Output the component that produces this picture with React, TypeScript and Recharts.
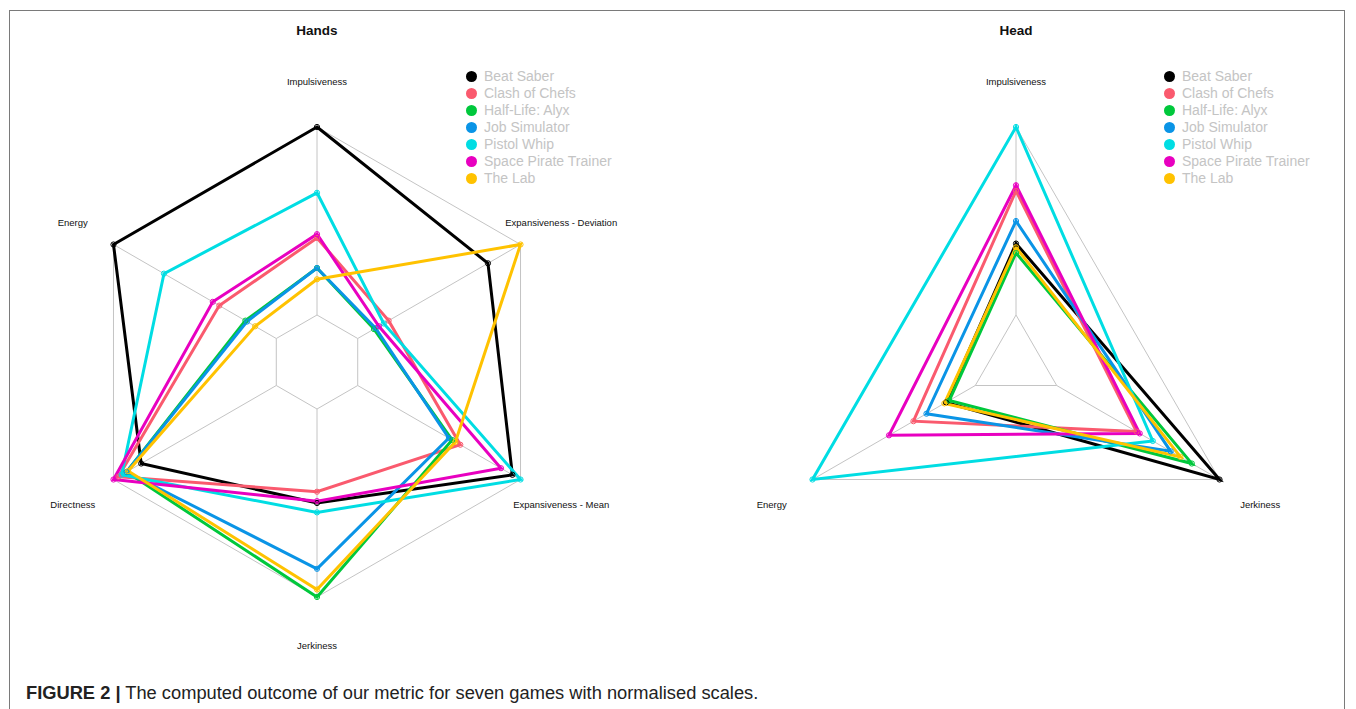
import React from 'react';
import { RadarChart, Radar, PolarGrid, PolarAngleAxis, PolarRadiusAxis } from 'recharts';

// Games and their colours
const games = ['Beat Saber', 'Clash of Chefs', 'Half-Life: Alyx', 'Job Simulator', 'Pistol Whip', 'Space Pirate Trainer', 'The Lab'];
const gameColors = ['#000000', '#FA5A6E', '#00C83C', '#0A94E6', '#00DDE3', '#E800C0', '#FFC200'];

// Hands metrics (normalised 0..1)
const handsAxes = ['Impulsiveness', 'Expansiveness - Deviation', 'Expansiveness - Mean', 'Jerkiness', 'Directness', 'Energy'];
const handsBeatSaber = [1.0, 0.8, 0.95, 0.5, 0.83, 1.0];
const handsClashOfChefs = [0.41, 0.19, 0.63, 0.44, 0.97, 0.35];
const handsHalfLifeAlyx = [0.25, 0.1, 0.58, 1.0, 0.92, 0.19];
const handsJobSimulator = [0.25, 0.11, 0.56, 0.85, 0.92, 0.18];
const handsPistolWhip = [0.65, 0.16, 1.0, 0.55, 0.95, 0.69];
const handsSpacePirateTrainer = [0.43, 0.13, 0.88, 0.49, 1.0, 0.39];
const handsTheLab = [0.19, 1.0, 0.6, 0.96, 0.91, 0.13];

// Head metrics (normalised 0..1)
const headAxes = ['Impulsiveness', 'Jerkiness', 'Energy'];
const headBeatSaber = [0.38, 1.0, 0.18];
const headClashOfChefs = [0.66, 0.49, 0.38];
const headHalfLifeAlyx = [0.33, 0.83, 0.16];
const headJobSimulator = [0.5, 0.7, 0.3];
const headPistolWhip = [1.0, 0.59, 1.0];
const headSpacePirateTrainer = [0.69, 0.51, 0.53];
const headTheLab = [0.36, 0.76, 0.19];

const handsSeries = [handsBeatSaber, handsClashOfChefs, handsHalfLifeAlyx, handsJobSimulator, handsPistolWhip, handsSpacePirateTrainer, handsTheLab];
const headSeries = [headBeatSaber, headClashOfChefs, headHalfLifeAlyx, headJobSimulator, headPistolWhip, headSpacePirateTrainer, headTheLab];

const buildRows = (axes: string[], series: number[][]) =>
  axes.map((axis, i) => {
    const row: Record<string, string | number> = { axis };
    games.forEach((g, k) => {
      row[g] = series[k][i];
    });
    return row;
  });

const handsData = buildRows(handsAxes, handsSeries);
const headData = buildRows(headAxes, headSeries);

const FONT = '"Liberation Sans", Arial, Helvetica, sans-serif';
const OUTER = 235;
const INNER = 47;

const AxisLabel = (props: any) => {
  const { x, y, payload } = props;
  return (
    <text x={x} y={y} dy={1.5} textAnchor="middle" dominantBaseline="central" fontSize={9.5} fill="#111" fontFamily={FONT}>
      {payload.value}
    </text>
  );
};

const GameLegend = ({ left, top }: { left: number; top: number }) => (
  <div style={{ position: 'absolute', left, top, fontFamily: FONT, fontSize: 14, color: '#c4c4c4' }}>
    {games.map((g, i) => (
      <div key={g} style={{ height: 17, lineHeight: '17px', position: 'relative', whiteSpace: 'nowrap' }}>
        <span
          style={{
            position: 'absolute',
            left: 0,
            top: 3,
            width: 11,
            height: 11,
            borderRadius: '50%',
            background: gameColors[i],
          }}
        />
        <span style={{ position: 'absolute', left: 18.5 }}>{g}</span>
      </div>
    ))}
  </div>
);

const Spider = ({ data, cx }: { data: any[]; cx: number }) => (
  <RadarChart
    width={678}
    height={709}
    data={data}
    cx={cx}
    cy={362}
    innerRadius={INNER}
    outerRadius={OUTER}
    margin={{ top: 0, right: 0, bottom: 0, left: 0 }}
  >
    <PolarGrid gridType="polygon" stroke="#c4c4c4" strokeWidth={1} />
    <PolarRadiusAxis domain={[0, 1]} tickCount={5} tick={false} axisLine={false} />
    <PolarAngleAxis dataKey="axis" axisLine={false} tickLine={false} tickSize={OUTER * 0.2} tick={<AxisLabel />} />
    {games.map((g, i) => (
      <Radar
        key={g}
        name={g}
        dataKey={g}
        stroke={gameColors[i]}
        strokeWidth={3}
        fill="none"
        fillOpacity={0}
        dot={{ r: 2.6, fill: gameColors[i], stroke: gameColors[i], strokeWidth: 1 }}
        isAnimationActive={false}
      />
    ))}
  </RadarChart>
);

export default function App() {
  return (
    <div style={{ position: 'absolute', left: 0, top: 0, width: 1356, height: 709, background: '#fff', overflow: 'hidden' }}>
      <div
        style={{
          position: 'absolute',
          left: 9,
          top: 10,
          width: 1336,
          height: 740,
          border: '1.5px solid #7a7a7a',
          boxSizing: 'border-box',
        }}
      />
      <div style={{ position: 'absolute', left: 0, top: 0 }}>
        <Spider data={handsData} cx={317} />
      </div>
      <div style={{ position: 'absolute', left: 678, top: 0 }}>
        <Spider data={headData} cx={338} />
      </div>
      <div style={{ position: 'absolute', left: 217, width: 200, top: 23, textAlign: 'center', fontFamily: FONT, fontWeight: 'bold', fontSize: 13.5, lineHeight: '16px', color: '#111' }}>
        Hands
      </div>
      <div style={{ position: 'absolute', left: 916, width: 200, top: 23, textAlign: 'center', fontFamily: FONT, fontWeight: 'bold', fontSize: 13.5, lineHeight: '16px', color: '#111' }}>
        Head
      </div>
      <GameLegend left={465.5} top={67.5} />
      <GameLegend left={1163.5} top={67.5} />
      <div style={{ position: 'absolute', left: 26, top: 684, fontFamily: FONT, fontSize: 18.3, lineHeight: '18px', color: '#222', whiteSpace: 'nowrap' }}>
        <span style={{ fontWeight: 'bold' }}>FIGURE 2 |</span> The computed outcome of our metric for seven games with normalised scales.
      </div>
    </div>
  );
}
